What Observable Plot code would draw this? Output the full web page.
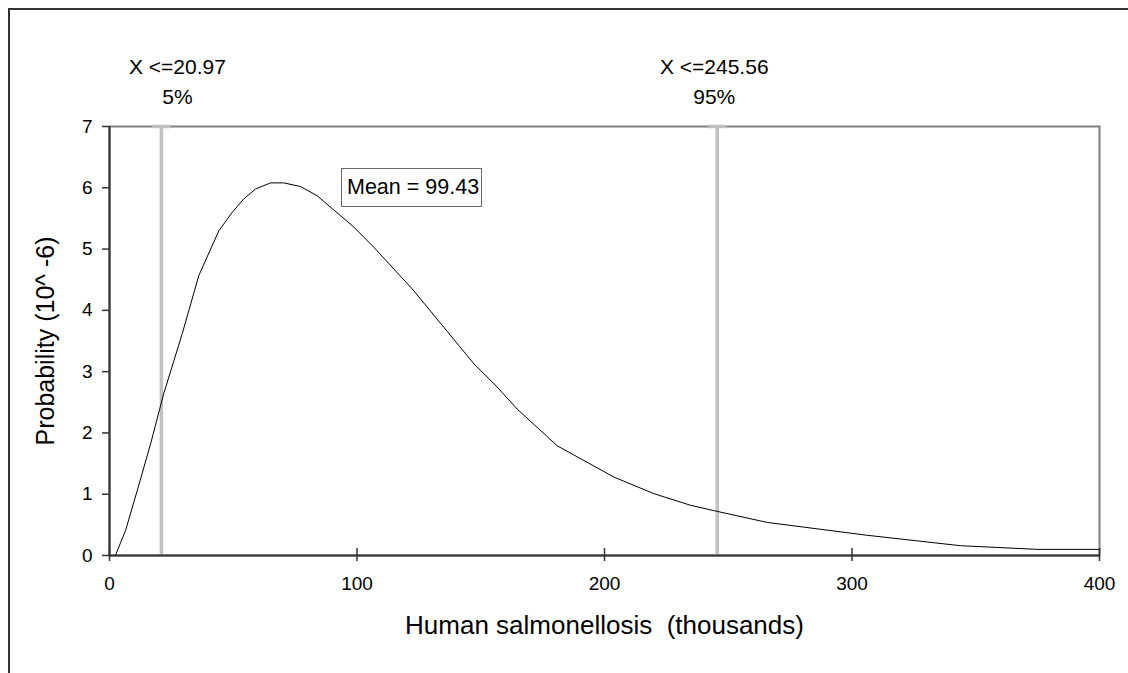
<!DOCTYPE html>
<html>
<head>
<meta charset="utf-8">
<script src="https://cdn.jsdelivr.net/npm/d3@7"></script>
<script src="https://cdn.jsdelivr.net/npm/@observablehq/plot@0.6"></script>
<style>
  html, body { margin: 0; padding: 0; background: #fff; overflow: hidden; }
  #wrap { position: relative; width: 1128px; height: 673px; overflow: hidden; font-family: "Liberation Sans", Arial, sans-serif; }
  #outer { position: absolute; left: 8px; top: 8px; right: 0; bottom: 0; border-left: 2px solid #333; border-top: 2px solid #333; }
  #chart { position: absolute; left: 0; top: 0; }
  #chart svg text { white-space: pre; }
  #meanbox { position: absolute; left: 341px; top: 168px; width: 141px; height: 39px; box-sizing: border-box;
    border: 1.5px solid #6a6a6a; background: #fff; font-size: 21.5px; line-height: 36px; padding-left: 5px; color: #000; white-space: nowrap; }
</style>
</head>
<body>
<div id="wrap">
  <div id="outer"></div>
  <div id="chart"></div>
  <div id="meanbox"></div>
</div>
<script>
// Density curve (x in thousands, y in 10^-6)
const curveX = [2.4, 6.5, 11.5, 16.6, 21.9, 29.4, 36.1, 44.2, 49.6, 54.3, 59.0, 65.1, 70.4, 77.2, 83.9, 98.7, 106.8, 122.3, 147.2, 156.6, 164.7, 180.9, 203.8, 219.9, 234.7, 245.5, 265.7, 306.1, 343.8, 374.8, 400];
const curveY = [0, 0.41, 1.1, 1.82, 2.64, 3.62, 4.57, 5.30, 5.60, 5.82, 5.98, 6.08, 6.08, 6.02, 5.87, 5.36, 5.03, 4.35, 3.13, 2.75, 2.39, 1.79, 1.28, 1.01, 0.82, 0.72, 0.54, 0.33, 0.16, 0.10, 0.10];

// Percentile markers
const pctValues = [20.97, 245.56];
const pctLabels = ["X <=20.97\n5%", "X <=245.56\n95%"];

const meanLabel = "Mean = 99.43";

const xTicks = [0, 100, 200, 300, 400];
const yTicks = [0, 1, 2, 3, 4, 5, 6, 7];
const xTitle = "Human salmonellosis  (thousands)";
const yTitle = "Probability (10^ -6)";

const curve = curveX.map((x, i) => ({x, y: curveY[i]}));
const pct = pctValues.map((x, i) => ({x, label: pctLabels[i]}));

const capSymbol = { draw(ctx) { ctx.rect(-9, -1.75, 18, 3.5); } };
const pctText = { x: "x", frameAnchor: "top", text: "label", dy: -47, lineAnchor: "middle", fontSize: 21, lineHeight: 1.45, fill: "#000" };

const chart = Plot.plot({
  width: 1128,
  height: 673,
  marginLeft: 109,
  marginRight: 29,
  marginTop: 126,
  marginBottom: 118,
  style: { fontFamily: "'Liberation Sans', Arial, sans-serif", background: "transparent", color: "#000" },
  x: { domain: [0, 400], axis: null },
  y: { domain: [0, 7], axis: null },
  marks: [
    Plot.frame({ stroke: "#808080", strokeWidth: 2 }),
    Plot.ruleX(pct, { x: "x", y1: 0, y2: 7, stroke: "#c0c0c0", strokeWidth: 3.5 }),
    Plot.dot(pct, { x: "x", y: () => 7, symbol: capSymbol, fill: "#c0c0c0", stroke: null }),
    Plot.line(curve, { x: "x", y: "y", stroke: "#000", strokeWidth: 1 }),
    Plot.ruleY([0], { stroke: "#333", strokeWidth: 2 }),
    Plot.ruleX([0], { stroke: "#333", strokeWidth: 2 }),
    // x ticks crossing the axis
    Plot.ruleX(xTicks, { x: d => d, y1: 0, y2: 0, insetTop: -7, insetBottom: -6, stroke: "#333", strokeWidth: 1.5 }),
    // y ticks outward
    Plot.ruleY(yTicks, { y: d => d, x1: 0, x2: 0, insetLeft: -7, insetRight: 0, stroke: "#333", strokeWidth: 1.5 }),
    // tick labels
    Plot.text(yTicks, { y: d => d, frameAnchor: "left", text: d => String(d), textAnchor: "end", dx: -17, fontSize: 19, fill: "#000" }),
    Plot.text(xTicks, { x: d => d, frameAnchor: "bottom", text: d => String(d), lineAnchor: "top", dy: 21, fontSize: 19, fill: "#000" }),
    // percentile labels (the 5% label sits slightly right of its line, as in the source)
    Plot.text(pct.slice(0, 1), { ...pctText, dx: 16 }),
    Plot.text(pct.slice(1), { ...pctText, dx: -3 }),
    // axis titles
    Plot.text([xTitle], { frameAnchor: "bottom", dy: 78, fontSize: 26, fill: "#000" }),
    Plot.text([yTitle], { frameAnchor: "left", textAnchor: "middle", rotate: -90, dx: -64, fontSize: 25, fill: "#000" })
  ]
});
document.getElementById("chart").appendChild(chart);
document.getElementById("meanbox").textContent = meanLabel;
</script>
</body>
</html>
